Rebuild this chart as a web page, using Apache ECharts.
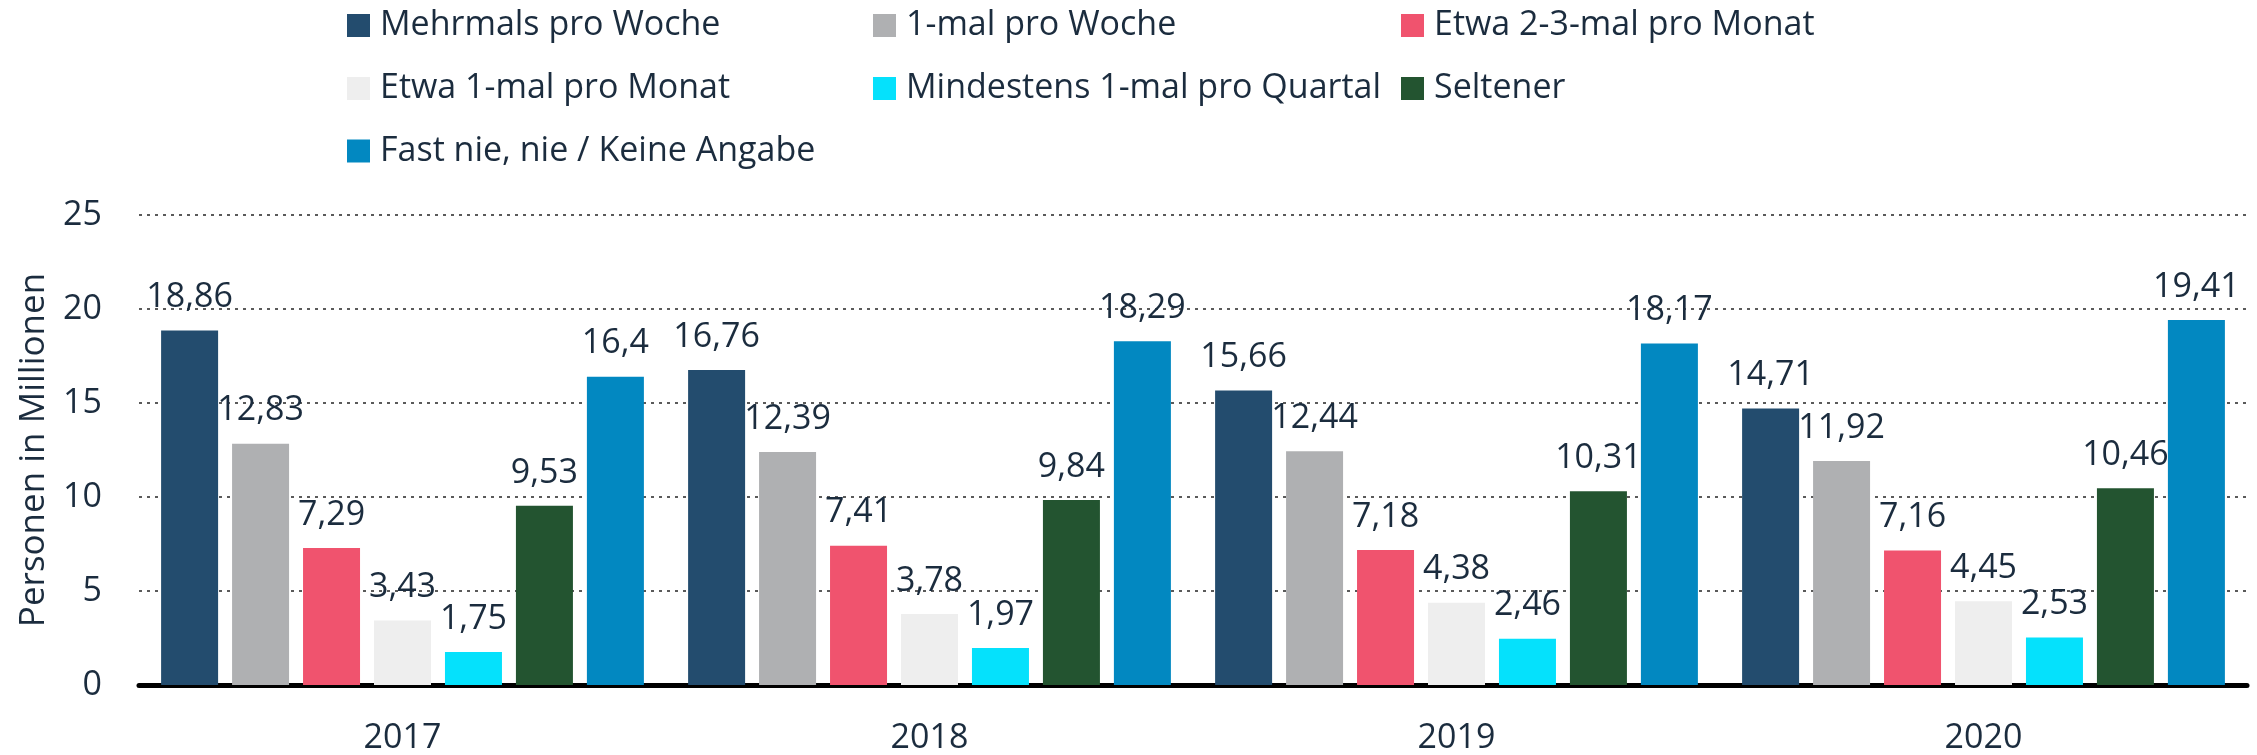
<!DOCTYPE html>
<html>
<head>
<meta charset="utf-8">
<script src="https://cdn.jsdelivr.net/npm/echarts@6/dist/echarts.min.js"></script>
<style>
  html, body { margin: 0; padding: 0; background: #fff; }
  #chart { width: 2257px; height: 755px; }
</style>
</head>
<body>
<div id="chart"></div>
<script>
const years = ['2017', '2018', '2019', '2020'];
const seriesNames = [
  'Mehrmals pro Woche',
  '1-mal pro Woche',
  'Etwa 2-3-mal pro Monat',
  'Etwa 1-mal pro Monat',
  'Mindestens 1-mal pro Quartal',
  'Seltener',
  'Fast nie, nie / Keine Angabe',
];
const mehrmalsProWoche = [18.86, 16.76, 15.66, 14.71];
const einmalProWoche = [12.83, 12.39, 12.44, 11.92];
const etwa23malProMonat = [7.29, 7.41, 7.18, 7.16];
const etwa1malProMonat = [3.43, 3.78, 4.38, 4.45];
const mindestensProQuartal = [1.75, 1.97, 2.46, 2.53];
const seltener = [9.53, 9.84, 10.31, 10.46];
const fastNie = [16.4, 18.29, 18.17, 19.41];
const yTicks = [0, 5, 10, 15, 20, 25];

const values = [
  mehrmalsProWoche, einmalProWoche, etwa23malProMonat, etwa1malProMonat,
  mindestensProQuartal, seltener, fastNie,
];
const colors = ['#234c6e', '#afb0b2', '#f0536e', '#eeeeee', '#05e1fc', '#235430', '#0288c1'];
const textColor = '#1b2c3e';
const font = '"Open Sans", sans-serif';

// legend grid: 3 columns, 3 rows
const legendCols = [347, 873, 1401];
const legendRows = [8.5, 71.5, 134];

const chart = echarts.init(document.getElementById('chart'), null, { renderer: 'canvas' });

const option = {
  animation: false,
  textStyle: { fontFamily: font },
  legend: seriesNames.map((name, i) => ({
    data: [name],
    left: legendCols[i % 3],
    top: legendRows[Math.floor(i / 3)],
    padding: 0,
    icon: 'rect',
    itemWidth: 23,
    itemHeight: 23,
    selectedMode: false,
    textStyle: {
      fontFamily: font,
      fontSize: 34,
      color: textColor,
      padding: [0, 0, 0, 5],
    },
  })),
  grid: {
    left: 139,
    right: 10,
    top: 215,
    bottom: 67,
    containLabel: false,
  },
  xAxis: {
    type: 'category',
    data: years,
    axisTick: { show: false },
    axisLine: { show: true, lineStyle: { color: '#000', width: 5 } },
    axisLabel: {
      fontFamily: font,
      fontSize: 34,
      color: textColor,
      margin: 36,
    },
  },
  yAxis: {
    type: 'value',
    min: yTicks[0],
    max: yTicks[yTicks.length - 1],
    interval: 5,
    name: 'Personen in Millionen',
    nameLocation: 'middle',
    nameGap: 87,
    nameTextStyle: { fontFamily: font, fontSize: 35, color: textColor },
    axisLine: { show: false },
    axisTick: { show: false },
    axisLabel: {
      fontFamily: font,
      fontSize: 34,
      color: textColor,
      margin: 37,
    },
    splitLine: {
      show: true,
      lineStyle: { type: [3, 5], width: 2, color: '#5a5a5a' },
    },
  },
  series: seriesNames.map((name, i) => ({
    name,
    type: 'bar',
    data: values[i],
    barWidth: 57,
    barGap: '24.5%',
    itemStyle: { color: colors[i] },
    label: {
      show: true,
      position: 'top',
      distance: 16,
      fontFamily: font,
      fontSize: 34,
      color: textColor,
      formatter: p => String(p.value).replace('.', ','),
    },
  })),
};

chart.setOption(option);
</script>
</body>
</html>
